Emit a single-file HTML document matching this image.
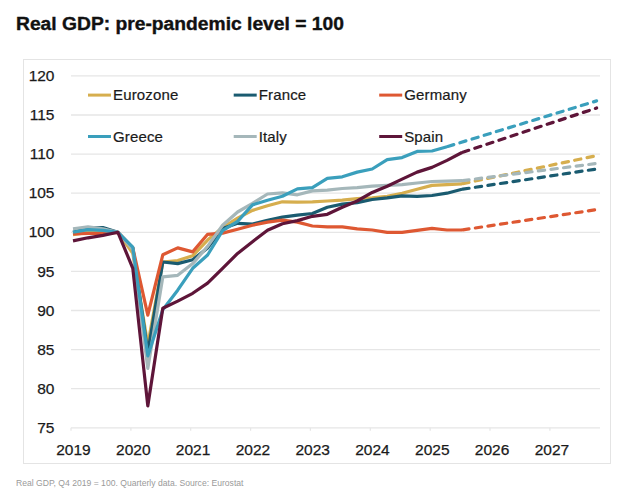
<!DOCTYPE html>
<html><head><meta charset="utf-8">
<style>
html,body{margin:0;padding:0;background:#fff;}
body{width:624px;height:503px;position:relative;overflow:hidden;font-family:"Liberation Sans",sans-serif;}
.title{position:absolute;left:15.5px;top:13.5px;font-weight:bold;font-size:17.5px;letter-spacing:0px;color:#111;transform:scaleX(1.1);transform-origin:0 0;-webkit-text-stroke:0.35px #111;white-space:nowrap;}
.box{position:absolute;left:23px;top:59px;width:586px;height:403px;border:1px solid #E4E4E4;}
.foot{position:absolute;left:16px;top:478px;font-size:8.6px;color:#9a9a9a;white-space:nowrap;}
svg{position:absolute;left:0;top:0;}
.ax{font-size:15.5px;fill:#1a1a1a;stroke:#1a1a1a;stroke-width:0.25px;}
.lg{font-size:15px;fill:#1a1a1a;stroke:#1a1a1a;stroke-width:0.2px;letter-spacing:0.15px;}
</style></head><body>
<div class="title">Real GDP: pre-pandemic level = 100</div>
<div class="box"></div>
<svg width="624" height="503" viewBox="0 0 624 503">
<line x1="71" y1="427.8" x2="600" y2="427.8" stroke="#E6E6E6" stroke-width="1.3"/>
<line x1="71" y1="388.7" x2="600" y2="388.7" stroke="#E6E6E6" stroke-width="1.3"/>
<line x1="71" y1="349.6" x2="600" y2="349.6" stroke="#E6E6E6" stroke-width="1.3"/>
<line x1="71" y1="310.5" x2="600" y2="310.5" stroke="#E6E6E6" stroke-width="1.3"/>
<line x1="71" y1="271.4" x2="600" y2="271.4" stroke="#E6E6E6" stroke-width="1.3"/>
<line x1="71" y1="232.3" x2="600" y2="232.3" stroke="#E6E6E6" stroke-width="1.3"/>
<line x1="71" y1="193.2" x2="600" y2="193.2" stroke="#E6E6E6" stroke-width="1.3"/>
<line x1="71" y1="154.1" x2="600" y2="154.1" stroke="#E6E6E6" stroke-width="1.3"/>
<line x1="71" y1="115.0" x2="600" y2="115.0" stroke="#E6E6E6" stroke-width="1.3"/>
<line x1="71" y1="75.9" x2="600" y2="75.9" stroke="#E6E6E6" stroke-width="1.3"/>
<line x1="71.0" y1="427.8" x2="71.0" y2="430.8" stroke="#E6E6E6" stroke-width="1.2"/>
<line x1="130.9" y1="427.8" x2="130.9" y2="430.8" stroke="#E6E6E6" stroke-width="1.2"/>
<line x1="190.7" y1="427.8" x2="190.7" y2="430.8" stroke="#E6E6E6" stroke-width="1.2"/>
<line x1="250.6" y1="427.8" x2="250.6" y2="430.8" stroke="#E6E6E6" stroke-width="1.2"/>
<line x1="310.4" y1="427.8" x2="310.4" y2="430.8" stroke="#E6E6E6" stroke-width="1.2"/>
<line x1="370.3" y1="427.8" x2="370.3" y2="430.8" stroke="#E6E6E6" stroke-width="1.2"/>
<line x1="430.2" y1="427.8" x2="430.2" y2="430.8" stroke="#E6E6E6" stroke-width="1.2"/>
<line x1="490.0" y1="427.8" x2="490.0" y2="430.8" stroke="#E6E6E6" stroke-width="1.2"/>
<line x1="549.9" y1="427.8" x2="549.9" y2="430.8" stroke="#E6E6E6" stroke-width="1.2"/>
<text x="54.5" y="432.9" text-anchor="end" class="ax">75</text>
<text x="54.5" y="393.8" text-anchor="end" class="ax">80</text>
<text x="54.5" y="354.7" text-anchor="end" class="ax">85</text>
<text x="54.5" y="315.6" text-anchor="end" class="ax">90</text>
<text x="54.5" y="276.5" text-anchor="end" class="ax">95</text>
<text x="54.5" y="237.4" text-anchor="end" class="ax">100</text>
<text x="54.5" y="198.3" text-anchor="end" class="ax">105</text>
<text x="54.5" y="159.2" text-anchor="end" class="ax">110</text>
<text x="54.5" y="120.1" text-anchor="end" class="ax">115</text>
<text x="54.5" y="81.0" text-anchor="end" class="ax">120</text>
<text x="73.5" y="454.5" text-anchor="middle" class="ax">2019</text>
<text x="133.3" y="454.5" text-anchor="middle" class="ax">2020</text>
<text x="193.1" y="454.5" text-anchor="middle" class="ax">2021</text>
<text x="252.9" y="454.5" text-anchor="middle" class="ax">2022</text>
<text x="312.7" y="454.5" text-anchor="middle" class="ax">2023</text>
<text x="372.5" y="454.5" text-anchor="middle" class="ax">2024</text>
<text x="432.3" y="454.5" text-anchor="middle" class="ax">2025</text>
<text x="492.1" y="454.5" text-anchor="middle" class="ax">2026</text>
<text x="551.9" y="454.5" text-anchor="middle" class="ax">2027</text>
<polyline points="73.0,234.6 88.0,232.3 102.9,232.3 117.9,232.3 132.8,253.4 147.8,344.9 162.8,262.0 177.7,260.5 192.7,255.8 207.6,240.1 222.6,227.6 237.6,218.2 252.5,210.4 267.5,205.7 282.4,201.8 297.4,202.2 312.4,201.8 327.3,201.0 342.3,200.2 357.2,198.7 372.2,197.9 387.2,196.3 402.1,193.2 417.1,189.3 432.0,185.4 447.0,184.6 462.0,183.8" fill="none" stroke="#D6AE4E" stroke-width="3.2" stroke-linejoin="round" stroke-linecap="butt"/>
<polyline points="73.0,232.3 88.0,228.0 102.9,227.6 117.9,232.3 132.8,247.9 147.8,352.7 162.8,262.0 177.7,263.6 192.7,259.7 207.6,247.9 222.6,228.4 237.6,223.3 252.5,224.1 267.5,220.2 282.4,217.1 297.4,215.1 312.4,213.5 327.3,207.3 342.3,204.1 357.2,202.6 372.2,199.5 387.2,197.9 402.1,195.9 417.1,196.3 432.0,195.5 447.0,193.2 462.0,189.3" fill="none" stroke="#1A5B70" stroke-width="3.2" stroke-linejoin="round" stroke-linecap="butt"/>
<polyline points="73.0,233.9 88.0,233.5 102.9,233.5 117.9,232.3 132.8,247.9 147.8,315.2 162.8,254.8 177.7,247.9 192.7,251.9 207.6,234.3 222.6,233.1 237.6,229.2 252.5,225.3 267.5,222.1 282.4,220.2 297.4,222.1 312.4,226.0 327.3,226.8 342.3,226.8 357.2,228.8 372.2,230.0 387.2,232.3 402.1,232.3 417.1,230.3 432.0,228.4 447.0,230.0 462.0,230.0" fill="none" stroke="#DE5832" stroke-width="3.2" stroke-linejoin="round" stroke-linecap="butt"/>
<polyline points="73.0,228.8 88.0,226.8 102.9,228.8 117.9,232.3 132.8,249.5 147.8,368.4 162.8,276.9 177.7,275.3 192.7,263.6 207.6,246.4 222.6,225.3 237.6,212.0 252.5,203.4 267.5,194.0 282.4,192.8 297.4,194.8 312.4,190.9 327.3,190.1 342.3,188.5 357.2,187.7 372.2,186.2 387.2,185.4 402.1,184.6 417.1,183.0 432.0,181.5 447.0,181.1 462.0,180.7" fill="none" stroke="#A5B7BA" stroke-width="3.2" stroke-linejoin="round" stroke-linecap="butt"/>
<polyline points="73.0,232.3 88.0,229.6 102.9,230.3 117.9,232.3 132.8,247.2 147.8,355.9 162.8,309.7 177.7,290.2 192.7,268.3 207.6,255.0 222.6,230.7 237.6,221.4 252.5,204.9 267.5,200.2 282.4,196.3 297.4,188.9 312.4,187.7 327.3,178.3 342.3,176.8 357.2,172.1 372.2,169.0 387.2,159.6 402.1,157.6 417.1,151.4 432.0,151.0 447.0,146.7" fill="none" stroke="#3A9FBC" stroke-width="3.2" stroke-linejoin="round" stroke-linecap="butt"/>
<polyline points="73.0,240.9 88.0,237.8 102.9,235.4 117.9,232.3 132.8,268.3 147.8,405.9 162.8,308.2 177.7,301.1 192.7,293.3 207.6,283.1 222.6,268.3 237.6,253.4 252.5,241.7 267.5,230.3 282.4,223.7 297.4,220.6 312.4,216.3 327.3,214.3 342.3,207.3 357.2,201.0 372.2,192.4 387.2,186.2 402.1,179.1 417.1,172.1 432.0,167.4 447.0,160.4 462.0,152.5" fill="none" stroke="#5E1539" stroke-width="3.2" stroke-linejoin="round" stroke-linecap="butt"/>
<line x1="462.0" y1="183.8" x2="596.6" y2="155.7" stroke="#D6AE4E" stroke-width="3.2" stroke-dasharray="6.3 6.4" stroke-dashoffset="-0.8" stroke-linecap="round"/>
<line x1="462.0" y1="189.3" x2="596.6" y2="169.0" stroke="#1A5B70" stroke-width="3.2" stroke-dasharray="6.3 6.4" stroke-dashoffset="-0.8" stroke-linecap="round"/>
<line x1="462.0" y1="230.0" x2="596.6" y2="209.6" stroke="#DE5832" stroke-width="3.2" stroke-dasharray="6.3 6.4" stroke-dashoffset="-0.8" stroke-linecap="round"/>
<line x1="462.0" y1="180.7" x2="596.6" y2="163.5" stroke="#A5B7BA" stroke-width="3.2" stroke-dasharray="6.3 6.4" stroke-dashoffset="-0.8" stroke-linecap="round"/>
<line x1="447.0" y1="146.7" x2="596.6" y2="100.9" stroke="#3A9FBC" stroke-width="3.2" stroke-dasharray="6.3 6.4" stroke-dashoffset="-0.8" stroke-linecap="round"/>
<line x1="462.0" y1="152.5" x2="596.6" y2="108.0" stroke="#5E1539" stroke-width="3.2" stroke-dasharray="6.3 6.4" stroke-dashoffset="-0.8" stroke-linecap="round"/>
<line x1="88" y1="95.1" x2="111" y2="95.1" stroke="#D6AE4E" stroke-width="3"/>
<text x="113" y="100.1" class="lg">Eurozone</text>
<line x1="233.7" y1="95.1" x2="256.7" y2="95.1" stroke="#1A5B70" stroke-width="3"/>
<text x="258.7" y="100.1" class="lg">France</text>
<line x1="379.2" y1="95.1" x2="402.2" y2="95.1" stroke="#DE5832" stroke-width="3"/>
<text x="404.2" y="100.1" class="lg">Germany</text>
<line x1="88" y1="136.5" x2="111" y2="136.5" stroke="#3A9FBC" stroke-width="3"/>
<text x="113" y="141.5" class="lg">Greece</text>
<line x1="233.7" y1="136.5" x2="256.7" y2="136.5" stroke="#A5B7BA" stroke-width="3"/>
<text x="258.7" y="141.5" class="lg">Italy</text>
<line x1="379.2" y1="136.5" x2="402.2" y2="136.5" stroke="#5E1539" stroke-width="3"/>
<text x="404.2" y="141.5" class="lg">Spain</text>
</svg>
<div class="foot">Real GDP, Q4 2019 = 100. Quarterly data. Source: Eurostat</div>
</body></html>
